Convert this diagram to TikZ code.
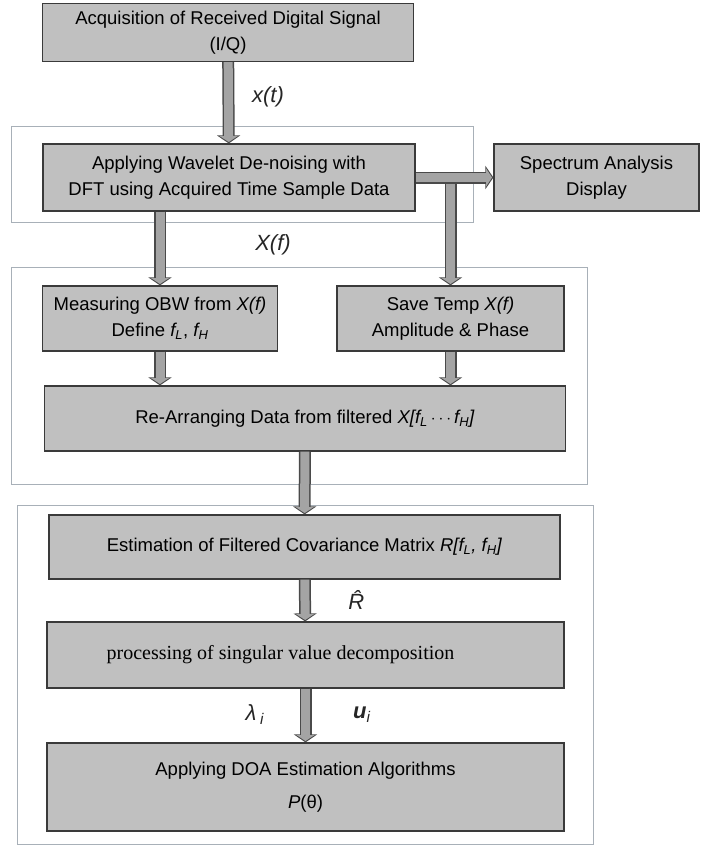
\documentclass[tikz,border=0pt]{standalone}
\usepackage{fontspec}
\setmainfont{Liberation Sans}
\newfontfamily\svdfont{Liberation Serif}
\usetikzlibrary{arrows.meta}

\definecolor{boxgray}{HTML}{C0C0C0}
\definecolor{boxedge}{HTML}{3A3A3A}
\definecolor{arrowgray}{HTML}{A4A4A4}
\definecolor{arrowedge}{HTML}{4A4A4A}
\definecolor{frmgray}{HTML}{A8B0B8}

\begin{document}
\begin{tikzpicture}[
    x=1pt,y=-1pt,
    blk/.style={draw=boxedge,fill=boxgray,line width=1.2pt,align=center,
        font=\fontsize{18.5}{26}\selectfont,inner sep=0pt},
    flow/.style={draw=arrowedge,line width=12pt,-{Triangle[width=23pt,length=8pt]},
        postaction={draw=arrowgray,line width=9pt,-{Triangle[width=18pt,length=6pt]},shorten >=1.4pt}},
    frm/.style={draw=frmgray,line width=0.9pt},
    lbl/.style={font=\fontsize{22}{26}\selectfont,text=black!85},
]
    \useasboundingbox (0,0) rectangle (701,846);

    % outer frames
    \draw[frm] (11,126) rectangle (473,222);
    \draw[frm] (11,267) rectangle (587,484);
    \draw[frm] (17,505) rectangle (593,844);

    \node[blk,minimum width=371pt,minimum height=58pt] (acq) at (228,32.5)
        {Acquisition of Received Digital Signal\\(I/Q)};
    \node[blk,minimum width=372pt,minimum height=67pt] (dft) at (229,177.5)
        {Applying Wavelet De-noising with\\DFT using Acquired Time Sample Data};
    \node[blk,minimum width=205pt,minimum height=67pt] (spectrum) at (596.5,177.5)
        {Spectrum Analysis\\Display};
    \node[blk,minimum width=235pt,minimum height=65pt] (obw) at (160,318.5)
        {Measuring OBW from \textit{X(f)}\\Define \textit{f\textsubscript{L}}, \textit{f\textsubscript{H}}};
    \node[blk,minimum width=227pt,minimum height=65pt] (save) at (450.5,318.5)
        {Save Temp \textit{X(f)}\\Amplitude \& Phase};
    \node[blk,minimum width=521pt,minimum height=65pt] (rearr) at (305,418.5)
        {Re-Arranging Data from filtered \textit{X[f\textsubscript{L}\,$\cdots$\,f\textsubscript{H}]}};
    \node[blk,minimum width=511pt,minimum height=64pt] (cov) at (304.5,547)
        {Estimation of Filtered Covariance Matrix \textit{R[f\textsubscript{L}, f\textsubscript{H}]}};
    \node[blk,minimum width=517pt,minimum height=66pt,font=\svdfont\fontsize{20}{26}\selectfont] (svd) at (305.5,655)
        {processing of singular value decomposition\hspace*{50pt}};
    \node[blk,minimum width=517pt,minimum height=88pt,font=\fontsize{18.5}{33}\selectfont] (doa) at (305.5,787)
        {Applying DOA Estimation Algorithms\\\textit{P}(θ)};

    % block arrows
    \draw[flow] (dft.east -| save.north) -- (save.north);
    \draw[flow] (acq) -- (dft);
    \draw[flow] (dft.east) -- (spectrum.west);
    \draw[flow] (dft.south -| obw.north) -- (obw.north);
    \draw[flow] (obw.south) -- (rearr.north -| obw.south);
    \draw[flow] (save.south) -- (rearr.north -| save.south);
    \draw[flow] (rearr) -- (cov);
    \draw[flow] (cov) -- (svd);
    \draw[flow] (svd) -- (doa);

    \node[lbl] (xt) at (268,97) {\textit{x(t)}};
    \node[lbl] (xf) at (273,245) {\textit{X(f)}};
    \node[lbl] (rhat) at (358,600) {\textit{\^R}};
    \node[lbl] (lam) at (255,715) {\textit{λ}\,\textsubscript{\textit{i}}};
    \node[lbl] (ui) at (362,715) {\textbf{\textit{u}}\textsubscript{\textit{i}}};
\end{tikzpicture}
\end{document}
